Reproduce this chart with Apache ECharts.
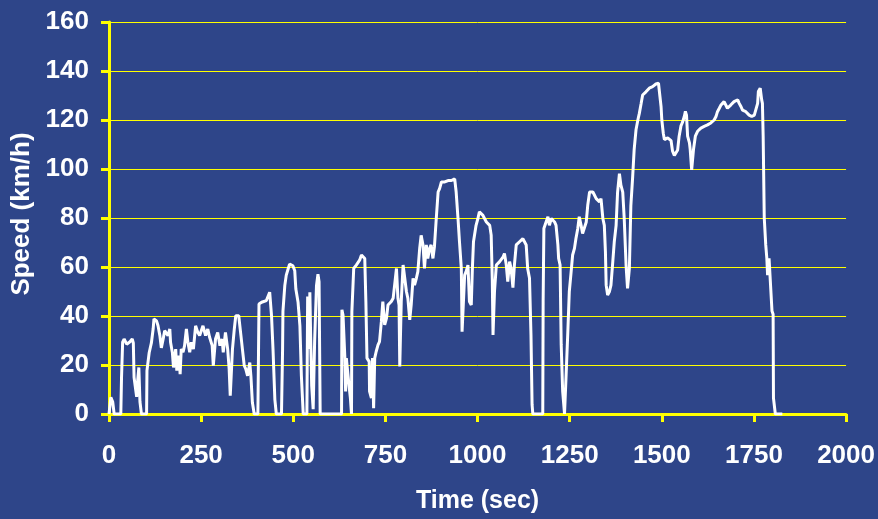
<!DOCTYPE html>
<html>
<head>
<meta charset="utf-8">
<style>
html,body{margin:0;padding:0;background:#2e4589;}
#chart{width:878px;height:519px;}
</style>
<script src="https://cdn.jsdelivr.net/npm/echarts@6/dist/echarts.min.js"></script>
</head>
<body>
<div id="chart"></div>
<script>
const timeSec = [0,3,5,10,14,32,34,37,41,48,57,63,66,68,71,75,78,81,84,88,102,103,109,115,120,122,129,133,138,142,147,151,156,160,165,167,172,175,181,184,190,193,196,201,205,210,214,219,223,229,235,241,246,255,262,268,273,280,283,289,295,301,307,310,316,322,326,329,335,340,344,352,358,362,367,371,376,382,385,389,394,404,407,414,427,432,436,441,445,450,454,468,471,472,477,481,486,490,495,499,504,507,513,518,522,527,537,539,541,543,545,547,550,554,558,563,567,570,573,631,632,635,640,642,644,649,651,655,658,659,664,671,680,685,689,694,697,700,706,707,712,715,718,721,725,730,734,739,743,748,753,757,766,771,775,780,784,787,789,793,798,802,807,811,816,820,825,829,834,838,843,847,852,856,861,865,870,874,879,883,888,893,897,902,911,920,929,938,942,947,951,956,958,962,965,969,974,978,983,986,989,996,1001,1005,1010,1014,1019,1024,1033,1037,1040,1042,1046,1051,1060,1069,1073,1078,1082,1087,1091,1096,1100,1105,1109,1114,1123,1127,1132,1136,1141,1145,1148,1150,1177,1178,1180,1186,1191,1195,1200,1209,1213,1218,1220,1224,1227,1231,1236,1240,1245,1249,1254,1258,1263,1267,1272,1276,1281,1285,1290,1295,1299,1304,1308,1313,1322,1331,1335,1340,1344,1347,1349,1353,1358,1362,1367,1371,1376,1380,1385,1389,1394,1398,1403,1407,1412,1416,1421,1425,1430,1435,1439,1444,1448,1457,1466,1475,1484,1491,1495,1498,1500,1504,1507,1511,1516,1520,1525,1529,1534,1538,1543,1547,1552,1556,1561,1564,1567,1570,1575,1577,1581,1584,1586,1591,1597,1606,1615,1624,1633,1642,1647,1651,1656,1660,1665,1669,1674,1678,1683,1687,1692,1696,1706,1710,1715,1719,1728,1733,1737,1744,1751,1755,1760,1762,1767,1771,1773,1775,1778,1782,1785,1787,1791,1796,1799,1802,1803,1808,1827];
const speedKmh = [0,0,6.8,5,0,0,15,29.3,30.6,28.5,29.5,30.6,29,15,11.5,7,14,19,5,0,0,17.7,25,29,35,38.8,38,36,32,27,30.6,34,34.7,32,34.7,29.3,25,19,26.5,17.7,23.8,16.3,26.5,25.2,27.9,34.7,29.3,25.2,29.3,26.5,36,33.3,32,36,32,34.7,31.3,27.9,19.7,30.6,33.3,27.9,30.6,25.2,33.3,26.5,18.4,7.5,26.5,34.7,40.1,40.1,32,26.5,19.7,18.4,15.6,21,15.6,4.8,0,0,44.9,45.6,46.3,46.9,49.7,40.1,26.5,6,0,0,26.5,42,52.4,56.7,59.2,61.2,61.6,60.5,58.5,51,45.6,36,15.6,0,0,48,46,26.5,49.7,33,11.5,2,30,52.4,57.1,54,0,0,42.5,40.4,22.8,9.2,22.8,22.8,12,6.5,0,41.8,59.4,60.8,62.8,64.9,65.5,63.5,45.9,22.8,21.4,9.2,6.5,22.8,2.4,22.8,25.5,28.2,29.5,37.7,45.9,36.4,39.1,44.5,45.9,47.2,52.6,59.4,47.2,44.5,19.4,45.9,60.8,60.8,50,47.2,38.4,44.5,55.4,52.6,55.4,58.1,67.6,72.9,69,59.4,69,63.5,67.6,69,63.5,68.2,79.8,90.6,92,94.7,94.7,95.3,95.3,96,90.6,79.8,70.3,59.4,33.6,33.6,56.7,58.1,60.8,45.9,44.5,59.4,70.3,77,79.8,82.5,81.9,81.2,80.5,78.4,77,73,55,32.3,50,60.8,62.2,64,65.5,60.8,54,62.2,59.4,51.6,60.8,69,69.7,70.3,71.6,72,69,59.4,55.4,32.3,3.8,0,0,45.9,75.7,78.4,80.5,77,79.8,78.4,77,69,63.5,60.8,28.2,9.2,0,14.6,33.6,50,58.1,64.9,67.6,71.6,75.7,80.5,77,73.7,73,78.4,85.2,90.6,91.3,90.6,87.9,86.6,87.9,79.8,77,66.2,52.6,48.6,50,52.6,62.2,70.3,77,90.6,98.1,93.4,90.6,79.8,60.8,51.3,59.4,85,97,108,116,120,122.7,126.8,130.2,131.5,133,133.6,134.7,135,129.5,125.4,120,114.6,112,111.5,112.7,113.4,111.6,107.4,105.5,105.5,107.8,113.4,117.6,119,121.4,123.5,122,113.4,110.7,108,99.6,99.6,108,113.4,115.4,116.7,117.4,118,118.8,120,121.4,123.4,124.8,126,126.8,127.5,126.8,124.8,125.4,126.1,126.8,127.5,128.2,126.8,125.4,124,123.4,123,122,121.4,122,122.7,126.8,131.6,133,128.2,126.8,113.4,80,69,63.5,56.7,63.5,63.5,42,40.7,6.5,0,0];
const xTicks = [0,250,500,750,1000,1250,1500,1750,2000];
const yTicks = [0,20,40,60,80,100,120,140,160];

const font = "'Liberation Sans', Arial, sans-serif";
const yellow = '#ffff00';
const chart = echarts.init(document.getElementById('chart'), null, {renderer:'canvas'});
chart.setOption({
  backgroundColor: '#2e4589',
  animation: false,
  grid: {left:109, right:31, top:22, bottom:103, containLabel:false},
  xAxis: {
    type:'value', min:xTicks[0], max:xTicks[xTicks.length-1], interval:250,
    name:'Time (sec)', nameLocation:'middle', nameGap:75,
    nameTextStyle:{color:'#fff', fontSize:25, fontWeight:'bold', fontFamily:font},
    axisLine:{show:true, onZero:false, lineStyle:{color:yellow, width:3}},
    axisTick:{show:true, length:8, lineStyle:{color:yellow, width:3}},
    axisLabel:{color:'#fff', fontSize:26, fontWeight:'bold', fontFamily:font, margin:29,
      formatter: v => String(v)},
    splitLine:{show:false}
  },
  yAxis: {
    type:'value', min:yTicks[0], max:yTicks[yTicks.length-1], interval:20,
    name:'Speed (km/h)', nameLocation:'middle', nameGap:72,
    nameTextStyle:{color:'#fff', fontSize:26, fontWeight:'bold', fontFamily:font, padding:[0,0,0,8]},
    axisLine:{show:true, onZero:false, lineStyle:{color:yellow, width:3}},
    axisTick:{show:true, length:8, lineStyle:{color:yellow, width:3}},
    axisLabel:{color:'#fff', fontSize:26, fontWeight:'bold', fontFamily:font, margin:20,
      formatter: v => String(v)},
    splitLine:{show:true, lineStyle:{color:yellow, width:1}}
  },
  series: [{
    type:'line',
    data: timeSec.map((t,i)=>[t, speedKmh[i]]),
    showSymbol:false, symbol:'none',
    lineStyle:{color:'#ffffff', width:3},
    z:3
  }]
});
</script>
</body>
</html>
